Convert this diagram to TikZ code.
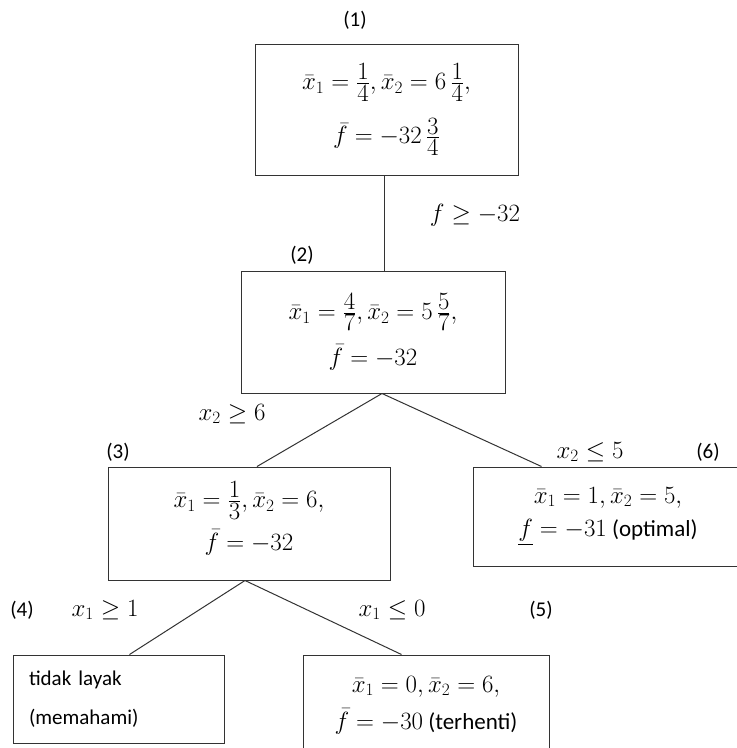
\documentclass[tikz,border=0pt]{standalone}
\usepackage{amsmath}
\usepackage{fontspec}
\setmainfont{Carlito}
\usetikzlibrary{positioning,calc}

% compact fraction with full size digits
\newcommand{\wfrac}[2]{\frac{\textstyle #1}{\textstyle #2}}

\begin{document}
\begin{tikzpicture}[x=1pt, y=-1pt,
  box/.style={draw=black!80, line width=1pt, align=center, inner sep=0pt,
    font=\fontsize{23}{28}\selectfont},
  link/.style={draw=black!80, line width=1pt},
  cond/.style={inner sep=0pt, font=\fontsize{23}{28}\selectfont},
  tag/.style={inner sep=0pt, font=\fontsize{21}{25}\selectfont}
]
\useasboundingbox (0,0) rectangle (737,748);

% nodes of the tree
\node[box, minimum width=263pt, minimum height=131pt] (box1) at (386.5,109.5)
  {$\bar{x}_1=\wfrac{1}{4}, \bar{x}_2=6\,\wfrac{1}{4},$\\[16pt] $\bar{f}=-32\,\wfrac{3}{4}$};
\node[box, minimum width=264pt, minimum height=122pt] (box2) at (373,332)
  {$\bar{x}_1=\wfrac{4}{7}, \bar{x}_2=5\,\wfrac{5}{7},$\\[13pt] $\bar{f}=-32$};
\node[box, minimum width=282pt, minimum height=113pt] (box3) at (249,523.5)
  {\mbox{}\\[-12pt] $\bar{x}_1=\wfrac{1}{3}, \bar{x}_2=6,$\\[10pt] $\bar{f}=-32$};
\node[box, minimum width=270pt, minimum height=99pt] (box6) at (608,516.5)
  {$\bar{x}_1=1, \bar{x}_2=5,$\\[5pt] $\underline{f}=-31$ (optimal)};
\node[box, align=left, text width=179pt, inner xsep=16pt, minimum height=88pt,
  font=\fontsize{21}{25}\selectfont] (box4) at (118.5,699)
  {tidak layak\\[14pt] (memahami)};
\node[box, minimum width=246pt, minimum height=100pt] (box5) at (426,705)
  {$\bar{x}_1=0, \bar{x}_2=6,$\\[9pt] $\bar{f}=-30$ (terhenti)};

% numbers of the subproblems
\node[tag] (tag1) at (355,20) {(1)};
\node[tag] (tag2) at (302,255) {(2)};
\node[tag] (tag3) at (118,452) {(3)};
\node[tag] (tag6) at (708,452) {(6)};
\node[tag] (tag4) at (22,610) {(4)};
\node[tag] (tag5) at (541,610) {(5)};

% branching conditions
\node[cond] (c12) at (475,215) {$f\geq -32$};
\node[cond] (c23) at (232,414) {$x_2\geq 6$};
\node[cond] (c26) at (590,452) {$x_2\leq 5$};
\node[cond] (c34) at (105,610) {$x_1\geq 1$};
\node[cond] (c35) at (392,610) {$x_1\leq 0$};

% branches
\draw[link] ([xshift=-2.5pt]box1.south) -- ([xshift=-2.5pt]box1.south |- box2.north);
\draw[link] ([xshift=9pt]box2.south) -- ([xshift=8pt]box3.north);
\draw[link] ([xshift=9pt]box2.south) -- ([xshift=69pt]box6.north west);
\draw[link] ([xshift=-4pt]box3.south) -- ([xshift=117pt]box4.north west);
\draw[link] ([xshift=-4pt]box3.south) -- ([xshift=99pt]box5.north west);
\end{tikzpicture}
\end{document}
